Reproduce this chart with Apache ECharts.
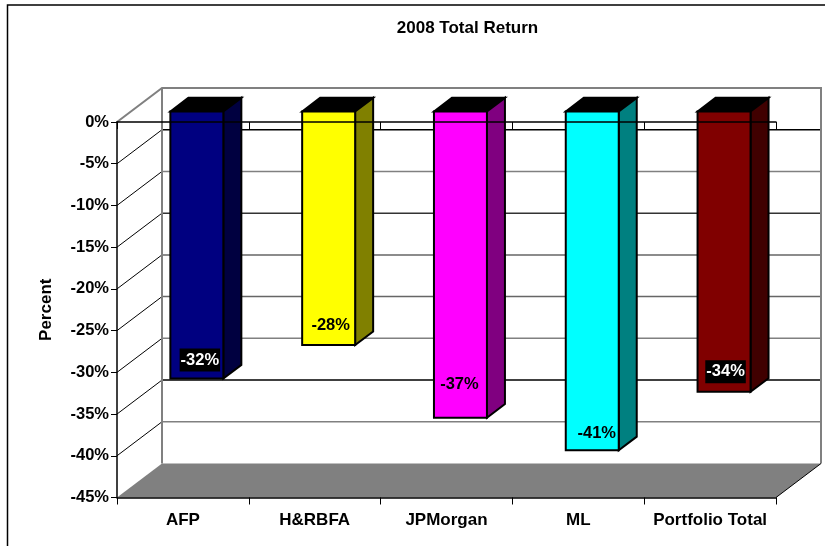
<!DOCTYPE html>
<html><head><meta charset="utf-8">
<style>html,body{margin:0;padding:0;background:#fff}#c{width:825px;height:546px}</style>
<script src="https://cdn.jsdelivr.net/npm/echarts@6/dist/echarts.min.js"></script>
</head><body><div id="c"></div>
<script>
const categories = ['AFP', 'H&RBFA', 'JPMorgan', 'ML', 'Portfolio Total'];
const returns = [-32, -28, -36.7, -40.6, -33.6];
const returnLabels = ['-32%', '-28%', '-37%', '-41%', '-34%'];
const yTicks = [-5, -10, -15, -20, -25, -30, -35, -40, -45];

const frontColors = ['#000080', '#FFFF00', '#FF00FF', '#00FFFF', '#800000'];
const sideColors = ['#000040', '#808000', '#800080', '#008080', '#400000'];
const labelOnDark = [true, false, false, false, true];
const labelLift = [18.5, 19.5, 33, 17, 20];
const labelShift = [3, 2, -1, 4.5, 1.5];
const gridColors = {'-5':'#000','-10':'#808080','-15':'#333','-20':'#666','-25':'#666','-30':'#808080','-35':'#000','-40':'#808080'};

const DX = 45, DY = 34;          // depth of the 3D box
const BAR_FRONT = 0.31, BAR_BACK = 0.71, BAR_W = 0.402;
const FONT = '"Liberation Sans", Arial, sans-serif';

function wallItem(params, api) {
  const v = api.value(0);
  const p = api.coord([0, v]);
  const end = api.coord([categories.length - 1, v]);
  const cw = api.size([1, 0])[0];
  const x0 = p[0] - cw / 2, x1 = end[0] + cw / 2, y = p[1];
  if (v === -45) {
    return { type: 'polygon', shape: { points: [[x0, y], [x0 + DX, y - DY], [x1 + DX, y - DY], [x1, y]] },
      style: { fill: '#808080', stroke: null } };
  }
  const c = gridColors[v] || '#555';
  return { type: 'group', children: [
    { type: 'line', shape: { x1: x0, y1: y, x2: x0 + DX, y2: y - DY }, style: { stroke: '#000', lineWidth: 1 } },
    { type: 'line', shape: { x1: x0 + DX, y1: y - DY, x2: x1 + DX, y2: y - DY }, style: { stroke: c, lineWidth: 1.5 } }
  ] };
}

function boxItem(params, api) {
  const top0 = api.coord([0, 0]), bot0 = api.coord([categories.length - 1, -45]);
  const cw = api.size([1, 0])[0];
  const x0 = top0[0] - cw / 2, x1 = bot0[0] + cw / 2, yT = top0[1], yB = bot0[1];
  const grey = { stroke: '#808080', lineWidth: 2 };
  return { type: 'group', children: [
    { type: 'polyline', shape: { points: [[x0, yT], [x0 + DX, yT - DY], [x1 + DX, yT - DY], [x1 + DX, yB - DY]] }, style: { ...grey, fill: null } },
    { type: 'line', shape: { x1: x0 + DX, y1: yT - DY, x2: x0 + DX, y2: yB - DY }, style: grey },
    { type: 'line', shape: { x1: x1, y1: yB, x2: x1 + DX, y2: yB - DY }, style: { stroke: '#000', lineWidth: 1 } }
  ] };
}

function barItem(params, api) {
  const i = api.value(0), v = api.value(1);
  const base = api.coord([i, 0]), tip = api.coord([i, v]);
  const w = api.size([1, 0])[0] * BAR_W;
  const fx = BAR_FRONT * DX, fy = BAR_FRONT * DY, bx = BAR_BACK * DX, by = BAR_BACK * DY;
  const L = base[0] - w / 2, R = base[0] + w / 2, T = base[1], B = tip[1];
  const pt = (x, y, dx, dy) => [x + dx, y - dy];
  const line = { stroke: '#000', lineWidth: 2, lineJoin: 'miter' };
  const dark = labelOnDark[i];
  return { type: 'group', children: [
    { type: 'polygon', shape: { points: [pt(L, T, fx, fy), pt(L, T, bx, by), pt(R, T, bx, by), pt(R, T, fx, fy)] }, style: { fill: '#000', ...line } },
    { type: 'polygon', shape: { points: [pt(R, T, fx, fy), pt(R, T, bx, by), pt(R, B, bx, by), pt(R, B, fx, fy)] }, style: { fill: sideColors[i], ...line } },
    { type: 'polygon', shape: { points: [pt(L, T, fx, fy), pt(R, T, fx, fy), pt(R, B, fx, fy), pt(L, B, fx, fy)] }, style: { fill: frontColors[i], ...line } },
    { type: 'text', x: base[0] + fx + labelShift[i], y: B - fy - labelLift[i], style: {
        text: returnLabels[i], font: 'bold 16.5px ' + FONT, align: 'center', verticalAlign: 'middle',
        fill: dark ? '#fff' : '#000', backgroundColor: dark ? '#000' : 'transparent', padding: [3, 1, 3, 1] } }
  ] };
}

const chart = echarts.init(document.getElementById('c'), null, { renderer: 'canvas' });
chart.setOption({
  animation: false,
  backgroundColor: '#fff',
  title: { text: '2008 Total Return', left: 462.5, top: 15, textAlign: 'center',
    textStyle: { fontFamily: FONT, fontSize: 17, fontWeight: 'bold', color: '#000' } },
  graphic: [{ type: 'polyline', silent: true, z: 0,
    shape: { points: [[7.5, 546], [7.5, 5], [825, 5]] }, style: { stroke: '#000', lineWidth: 1.5, fill: null } }],
  grid: { left: 117, top: 122, width: 659, height: 375.5, containLabel: false },
  xAxis: [
    { type: 'category', data: categories, position: 'bottom', z: 6,
      axisLine: { onZero: false, lineStyle: { color: '#000', width: 1.5 } },
      axisTick: { show: true, alignWithLabel: false, length: 7, lineStyle: { color: '#000' } },
      axisLabel: { interval: 0, color: '#000', fontFamily: FONT, fontSize: 17, fontWeight: 'bold', margin: 14 } },
    { type: 'category', data: categories, position: 'top', z: 6,
      axisLine: { onZero: false, lineStyle: { color: '#000', width: 1.5 } },
      axisTick: { show: true, inside: true, length: 7, lineStyle: { color: '#000' } },
      axisLabel: { show: false } }
  ],
  yAxis: { type: 'value', min: -45, max: 0, interval: 5, z: 6,
    name: 'Percent', nameLocation: 'middle', nameGap: 62, nameRotate: 90,
    nameTextStyle: { color: '#000', fontFamily: FONT, fontSize: 17, fontWeight: 'bold' },
    axisLine: { show: true, onZero: false, lineStyle: { color: '#000', width: 1.5 } },
    axisTick: { show: true, length: 6, lineStyle: { color: '#000' } },
    splitLine: { show: false },
    axisLabel: { color: '#000', fontFamily: FONT, fontSize: 16.5, fontWeight: 'bold', margin: 8, formatter: '{value}%' } },
  series: [
    { type: 'custom', z: 1, silent: true, clip: false, renderItem: wallItem, data: yTicks.map(v => [v]), encode: { y: 0 } },
    { type: 'custom', z: 2, silent: true, clip: false, renderItem: boxItem, data: [[0]] },
    { type: 'custom', z: 3, silent: true, clip: false, renderItem: barItem,
      data: returns.map((v, i) => [i, v]), encode: { x: 0, y: 1 } }
  ]
});
</script></body></html>
